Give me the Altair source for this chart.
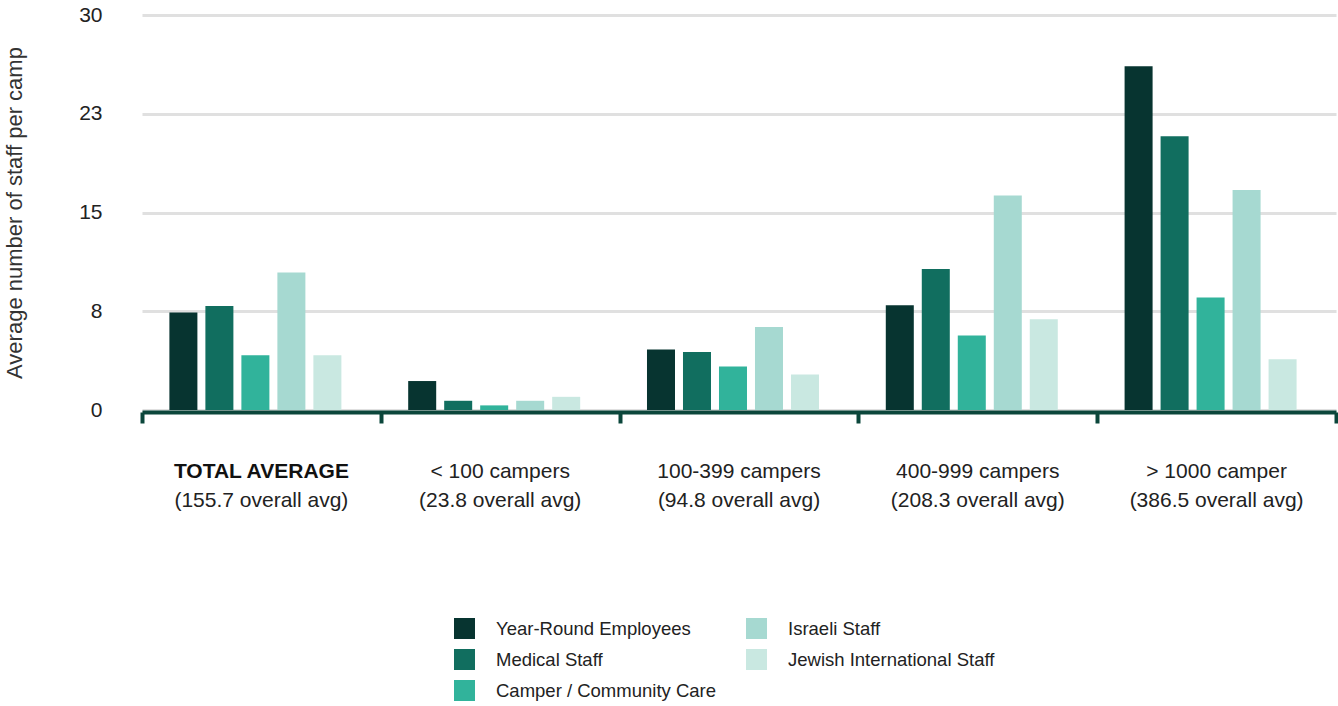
import altair as alt
import pandas as pd

groups = ["TOTAL AVERAGE", "< 100 campers", "100-399 campers", "400-999 campers", "> 1000 camper"]
subtitles = ["(155.7 overall avg)", "(23.8 overall avg)", "(94.8 overall avg)",
             "(208.3 overall avg)", "(386.5 overall avg)"]
series = ["Year-Round Employees", "Medical Staff", "Camper / Community Care",
          "Israeli Staff", "Jewish International Staff"]
colors = ["#073430", "#116e5f", "#31b39b", "#a6d9d1", "#c9e8e1"]

year_round = [7.4, 2.2, 4.6, 7.95, 26.1]
medical = [7.9, 0.7, 4.4, 10.7, 20.8]
camper_care = [4.15, 0.35, 3.3, 5.65, 8.55]
israeli = [10.45, 0.7, 6.3, 16.3, 16.7]
jewish_intl = [4.15, 1.0, 2.7, 6.9, 3.85]

y_ticks = [0, 7.5, 15, 22.5, 30]

values = [year_round, medical, camper_care, israeli, jewish_intl]
rows = []
for s, vals in zip(series, values):
    for g, v in zip(groups, vals):
        rows.append({"group": g, "series": s, "value": v})
df = pd.DataFrame(rows)
labels_df = pd.DataFrame({"group": groups, "sub": subtitles})

FONT = "Liberation Sans"
AXIS_GREEN = "#0b463b"

x_enc = alt.X(
    "group:N", sort=groups,
    scale=alt.Scale(paddingInner=0, paddingOuter=0),
    axis=alt.Axis(labels=False, title=None, tickBand="extent", domainColor=AXIS_GREEN,
                  domainWidth=4, tickColor=AXIS_GREEN, tickWidth=4, tickSize=11,
                  offset=2, zindex=1, grid=False),
)

bars = alt.Chart(df).mark_bar().encode(
    x=x_enc,
    xOffset=alt.XOffset("series:N", sort=series,
                        scale=alt.Scale(paddingInner=0.222, paddingOuter=0.928, align=0.41)),
    y=alt.Y("value:Q", scale=alt.Scale(domain=[0, 30], nice=False),
            axis=alt.Axis(values=y_ticks, format=".0f", domain=False, ticks=False,
                          grid=True, gridColor="#e0e0e0", gridWidth=3,
                          labelFontSize=21, labelColor="#222222", labelPadding=40,
                          title="Average number of staff per camp", titleFontSize=22,
                          titleFontWeight="normal", titleColor="#333333",
                          titlePadding=52)),
    color=alt.Color("series:N",
                    scale=alt.Scale(domain=series, range=colors),
                    legend=alt.Legend(title=None, orient="none", legendX=312, legendY=603,
                                      columns=2, columnPadding=29, rowPadding=10,
                                      symbolType="square", symbolSize=441,
                                      symbolStrokeWidth=0, labelFontSize=18.5,
                                      labelOffset=21, labelColor="#222222",
                                      labelLimit=400, padding=0)),
)

line1_bold = alt.Chart(labels_df).transform_filter(
    alt.datum.group == groups[0]
).mark_text(fontSize=21, fontWeight="bold", font=FONT, color="#111111",
            baseline="alphabetic").encode(
    x=alt.X("group:N", sort=groups), y=alt.value(463), text="group:N")

line1 = alt.Chart(labels_df).transform_filter(
    alt.datum.group != groups[0]
).mark_text(fontSize=21, font=FONT, color="#222222", baseline="alphabetic").encode(
    x=alt.X("group:N", sort=groups), y=alt.value(463), text="group:N")

line2 = alt.Chart(labels_df).mark_text(fontSize=21, font=FONT, color="#222222",
                                       baseline="alphabetic").encode(
    x=alt.X("group:N", sort=groups), y=alt.value(492), text="sub:N")

chart = alt.layer(bars, line1_bold, line1, line2).properties(
    width=1194, height=395,
    autosize=alt.AutoSizeParams(type="none"),
    padding={"left": 142, "top": 15, "right": 2, "bottom": 296},
    background="white",
).configure_view(stroke=None).configure_axis(
    labelFont=FONT, titleFont=FONT
).configure_legend(labelFont=FONT)

chart.save("out.html", embed_options={"renderer": "svg", "actions": False})
